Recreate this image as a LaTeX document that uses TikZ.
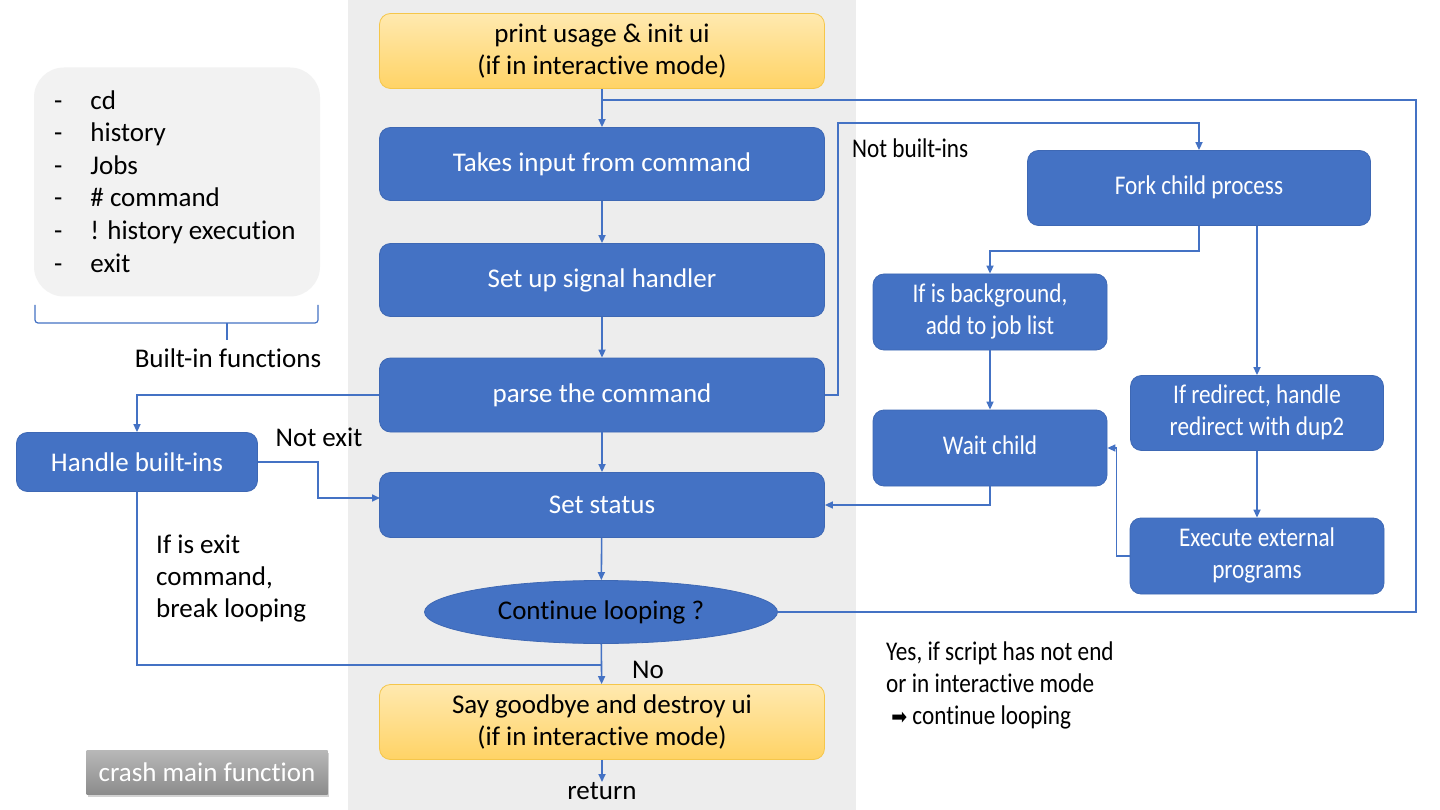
\documentclass[tikz,border=0pt]{standalone}
\usepackage{fontspec}
\setmainfont{Carlito}[Ligatures={NoCommon}]
\newfontfamily\dejavu{DejaVu Sans}
\usetikzlibrary{shapes.geometric,arrows.meta,shadows}
\definecolor{myblue}{HTML}{4472C4}
\definecolor{bborder}{HTML}{3E68B4}
\definecolor{lblue}{HTML}{4472C4}
\definecolor{panel}{HTML}{EDEDED}
\definecolor{ytop}{HTML}{FFE9B0}
\definecolor{ybot}{HTML}{FFD365}
\definecolor{yborder}{HTML}{F5C64A}
\definecolor{listbg}{HTML}{F2F2F2}
\newcommand\fs{\fontsize{27}{32}\selectfont}
\newcommand\nar[1]{\scalebox{0.86}[1]{\begin{tabular}{@{}c@{}}#1\end{tabular}}}
\newcommand\narl[1]{\scalebox{0.86}[1]{\begin{tabular}{@{}l@{}}#1\end{tabular}}}
\tikzset{
  bluebox/.style={rectangle, rounded corners=11pt, fill=myblue, draw=bborder, line width=0.8pt, text=white, font=\fs, align=center, inner sep=0pt},
  yellowbox/.style={rectangle, rounded corners=11pt, top color=ytop, bottom color=ybot, draw=yborder, line width=0.8pt, text=black, font=\fs, align=center, inner sep=0pt},
  lbl/.style={font=\fs, text=black, inner sep=0pt},
  conn/.style={draw=lblue, line width=1.6pt},
  arr/.style={conn, -{Triangle[length=8pt,width=7pt]}}
}
\begin{document}
\begin{tikzpicture}[x=1pt,y=-1pt]
\useasboundingbox (0,0) rectangle (1440,810);
\fill[white] (0,0) rectangle (1440,810);
\fill[panel] (348,0) rectangle (856,810);

% built-in list
\node[rectangle, rounded corners=30pt, fill=listbg, minimum width=286pt, minimum height=229pt, inner sep=0pt] (list) at (177,182) {};
\node[lbl, anchor=north west, align=left] (listtxt) at (54,86) {\fontsize{27}{32.6}\selectfont\begin{tabular}{@{}l@{\hspace{28pt}}l@{}}
-& cd\\ -& history\\ -& Jobs\\ -& \# command\\ -& ! history execution\\ -& exit\end{tabular}};
\draw[conn, line width=1.2pt, rounded corners=3pt] (35,305) -- (35,323) -- (318,323) -- (318,305);
\draw[conn, line width=1.2pt] (227,323) -- (227,340);
\node[lbl] (bif) at (228,358) {Built-in functions};

% main column
\node[yellowbox, minimum width=445pt, minimum height=75pt] (top) at (602,51) {print usage \& init ui\\(if in interactive mode)};
\node[bluebox, minimum width=445pt, minimum height=73pt] (take) at (602,164) {Takes input from command};
\node[bluebox, minimum width=445pt, minimum height=73pt] (sig) at (602,280) {Set up signal handler};
\node[bluebox, minimum width=445pt, minimum height=74pt] (parse) at (602,395) {parse the command};
\node[bluebox, minimum width=445pt, minimum height=65pt] (set) at (602,505) {Set status};
\node[ellipse, fill=myblue, draw=bborder, line width=0.8pt, minimum width=353pt, minimum height=63pt, inner sep=0pt, font=\fs] (cont) at (601,612) {Continue looping ?};
\node[yellowbox, minimum width=445pt, minimum height=75pt] (bye) at (602,722) {Say goodbye and destroy ui\\(if in interactive mode)};
\node[lbl, anchor=north] (ret) at (602,782) {return};

% left
\node[bluebox, minimum width=241pt, minimum height=59pt] (handle) at (137,462) {Handle built-ins};
\node[lbl] (notexit) at (319,437) {Not exit};
\node[lbl, anchor=west] (isexit) at (156,579) {\begin{tabular}{@{}l@{}}If is exit\\command,\\break looping\end{tabular}};
\node[rectangle, top color=black!28, bottom color=black!45, text=white, font=\fs, minimum width=241pt, minimum height=44pt, inner sep=0pt, drop shadow={shadow xshift=1pt, shadow yshift=-3pt, opacity=0.35}] (crash) at (207,772) {crash main function};

% right
\node[bluebox, minimum width=343pt, minimum height=75pt] (fork) at (1199,188) {\nar{Fork child process}};
\node[bluebox, minimum width=234pt, minimum height=76pt] (bg) at (990,312) {\nar{If is background,\\add to job list}};
\node[bluebox, minimum width=234pt, minimum height=76pt] (wait) at (990,448) {\nar{Wait child}};
\node[bluebox, minimum width=253pt, minimum height=75pt] (redir) at (1257,413) {\nar{If redirect, handle\\redirect with dup2}};
\node[bluebox, minimum width=254pt, minimum height=76pt] (exec) at (1257,556) {\nar{Execute external\\programs}};
\node[lbl, anchor=west] (notbi) at (852,151) {\nar{Not built-ins}};
\node[lbl, anchor=north west] (yes) at (886,638) {\narl{Yes, if script has not end\\or in interactive mode\\ \hspace{6pt}{\dejavu\fontsize{22}{26}\selectfont ➡} continue looping}};
\node[lbl] (no) at (648,670) {No};

% coordinates
\coordinate (loopin) at (602,100);
\coordinate (loopc) at (1416,100);
\coordinate (pf) at (838,123);
\coordinate (setin) at (380,498);
\coordinate (nojoin) at (602,665);

% connectors
\draw[arr] (top) -- (take);
\draw[arr] (take) -- (sig);
\draw[arr] (sig) -- (parse);
\draw[arr] (parse) -- (set);
\draw[arr] (set) -- (cont);
\draw[arr] (cont) -- (bye);
\draw[arr] (bye) -- (ret);
\draw[conn] (cont.east) -| (loopc) -- (loopin);
\draw[arr] (parse.east) -| (pf) -| (fork.north);
\draw[arr] (fork.south) -- ++(0,25) -| (bg.north);
\draw[arr] (fork.south -| redir.north) -- (redir.north);
\draw[arr] (bg) -- (wait);
\draw[arr] (redir) -- (exec);
\draw[arr] (exec.west) -- ++(-13,0) |- (wait.east);
\draw[arr] (wait.south) |- (set.east);
\draw[arr] (parse.west) -| (handle.north);
\draw[arr] (handle.east) -- ++(60,0) |- (setin);
\draw[conn] (handle.south) |- (nojoin);
\end{tikzpicture}
\end{document}
